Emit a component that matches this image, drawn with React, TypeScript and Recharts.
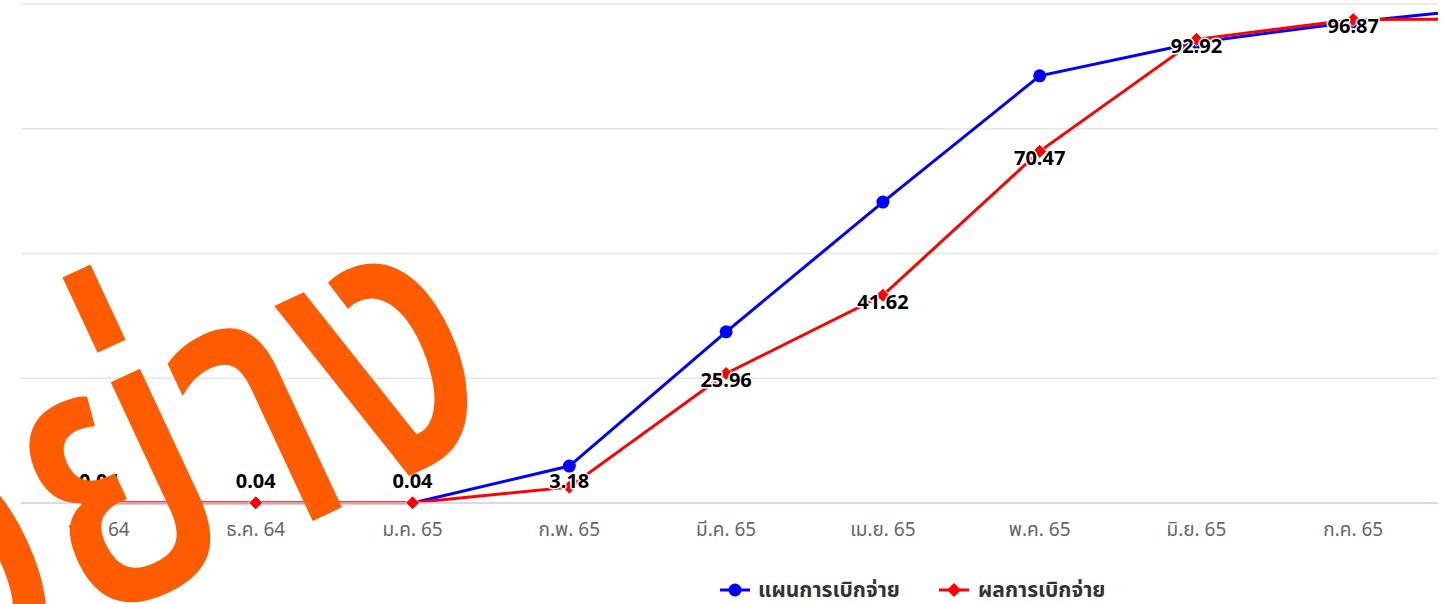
import { CartesianGrid, LabelList, Line, LineChart, XAxis, YAxis } from 'recharts'

// เดือน (มีเดือนสุดท้ายเกินขอบขวา ถูกตัดไว้)
const months = ['พ.ย. 64', 'ธ.ค. 64', 'ม.ค. 65', 'ก.พ. 65', 'มี.ค. 65', 'เม.ย. 65', 'พ.ค. 65', 'มิ.ย. 65', 'ก.ค. 65', 'ส.ค. 65']
const planValues = [null, null, 0, 7.4, 34.3, 60.3, 85.6, 92.3, 96.4, 99.6]
const resultValues = [0.04, 0.04, 0.04, 3.18, 25.96, 41.62, 70.47, 92.92, 96.87, 97.0]
const yTicks = [0, 25, 50, 75, 100]

const planName = 'แผนการเบิกจ่าย'
const resultName = 'ผลการเบิกจ่าย'
const watermark = 'ตัวอย่าง'

const BLUE = '#0000ff'
const RED = '#ff0000'
const FONT = '"Noto Sans", "Noto Sans Thai", sans-serif'

const CHART_H = 560
const MARGIN = { top: 4, right: 12, left: 21, bottom: 7 }
const XAXIS_H = 50
const PLOT_BOTTOM = CHART_H - MARGIN.bottom - XAXIS_H

const data = months.map((m, i) => ({
  month: m,
  plan: planValues[i],
  result: resultValues[i],
}))

const planDot = (props: any) => {
  const { cx, cy, value, index } = props
  if (!value) return <g key={`pd${index}`} />
  return <circle key={`pd${index}`} cx={cx} cy={cy} r={6.5} fill={BLUE} />
}

const resultDot = (props: any) => {
  const { cx, cy, index } = props
  const s = 7
  return (
    <path
      key={`rd${index}`}
      d={`M${cx},${cy - s} L${cx + s},${cy} L${cx},${cy + s} L${cx - s},${cy} Z`}
      fill={RED}
      stroke="#fff"
      strokeWidth={1}
    />
  )
}

// ป้ายค่า: อยู่ใต้จุดเล็กน้อย แต่ไม่ต่ำกว่าแกน
const renderLabel = (props: any) => {
  const { x, y, value, index } = props
  const cy = Math.min(y + 6, PLOT_BOTTOM - 22)
  return (
    <text
      key={`lb${index}`}
      x={x}
      y={cy}
      dy="0.36em"
      textAnchor="middle"
      fontFamily={FONT}
      fontSize={20}
      fontWeight={700}
      fill="#000"
      stroke="#fff"
      strokeWidth={3}
      strokeLinejoin="round"
      paintOrder="stroke"
    >
      {Number(value).toFixed(2)}
    </text>
  )
}

const legendStyle = {
  position: 'absolute' as const,
  top: 576,
  height: 28,
  display: 'flex',
  alignItems: 'center',
  fontFamily: FONT,
  fontSize: 21,
  fontWeight: 700,
  color: '#333',
}

export default function App() {
  return (
    <div style={{ position: 'fixed', left: 0, top: 0, width: 1454, height: 604, overflow: 'hidden', background: '#fff' }}>
      <div style={{ position: 'absolute', left: 0, top: 0, width: 1438, height: CHART_H, overflow: 'hidden' }}>
        <LineChart width={1600} height={CHART_H} data={data} margin={MARGIN}>
          <CartesianGrid vertical={false} stroke="#e6e6e6" strokeWidth={1.5} />
          <XAxis
            dataKey="month"
            interval={0}
            padding={{ left: 78, right: 78 }}
            height={XAXIS_H}
            axisLine={{ stroke: '#ccd6eb', strokeWidth: 1.5 }}
            tickLine={false}
            tickMargin={14}
            tick={{ fill: '#666', fontSize: 19, fontFamily: FONT }}
          />
          <YAxis hide domain={[0, 100]} ticks={yTicks} />
          <Line
            dataKey="plan"
            name={planName}
            stroke={BLUE}
            strokeWidth={3}
            dot={planDot}
            activeDot={false}
            isAnimationActive={false}
          />
          <Line
            dataKey="result"
            name={resultName}
            stroke={RED}
            strokeWidth={3}
            dot={resultDot}
            activeDot={false}
            isAnimationActive={false}
          >
            <LabelList dataKey="result" content={renderLabel} />
          </Line>
        </LineChart>
      </div>

      {/* legend */}
      <div style={{ ...legendStyle, left: 720 }}>
        <svg width={30} height={16}>
          <line x1={0} y1={8} x2={30} y2={8} stroke={BLUE} strokeWidth={3} />
          <circle cx={15} cy={8} r={6.5} fill={BLUE} />
        </svg>
        <span style={{ marginLeft: 8 }}>{planName}</span>
      </div>
      <div style={{ ...legendStyle, left: 939 }}>
        <svg width={30} height={16}>
          <line x1={0} y1={8} x2={30} y2={8} stroke={RED} strokeWidth={3} />
          <path d="M15,1 L22,8 L15,15 L8,8 Z" fill={RED} />
        </svg>
        <span style={{ marginLeft: 9 }}>{resultName}</span>
      </div>

      {/* watermark */}
      <svg width={1454} height={604} style={{ position: 'absolute', left: 0, top: 0, pointerEvents: 'none' }}>
        <text
          x={0}
          y={0}
          textAnchor="end"
          transform="translate(512 428) rotate(-25) scale(0.78 1)"
          fontFamily={FONT}
          fontSize={385}
          fontWeight={500}
          fill="#ff5b00"
        >
          {watermark}
        </text>
      </svg>
    </div>
  )
}
